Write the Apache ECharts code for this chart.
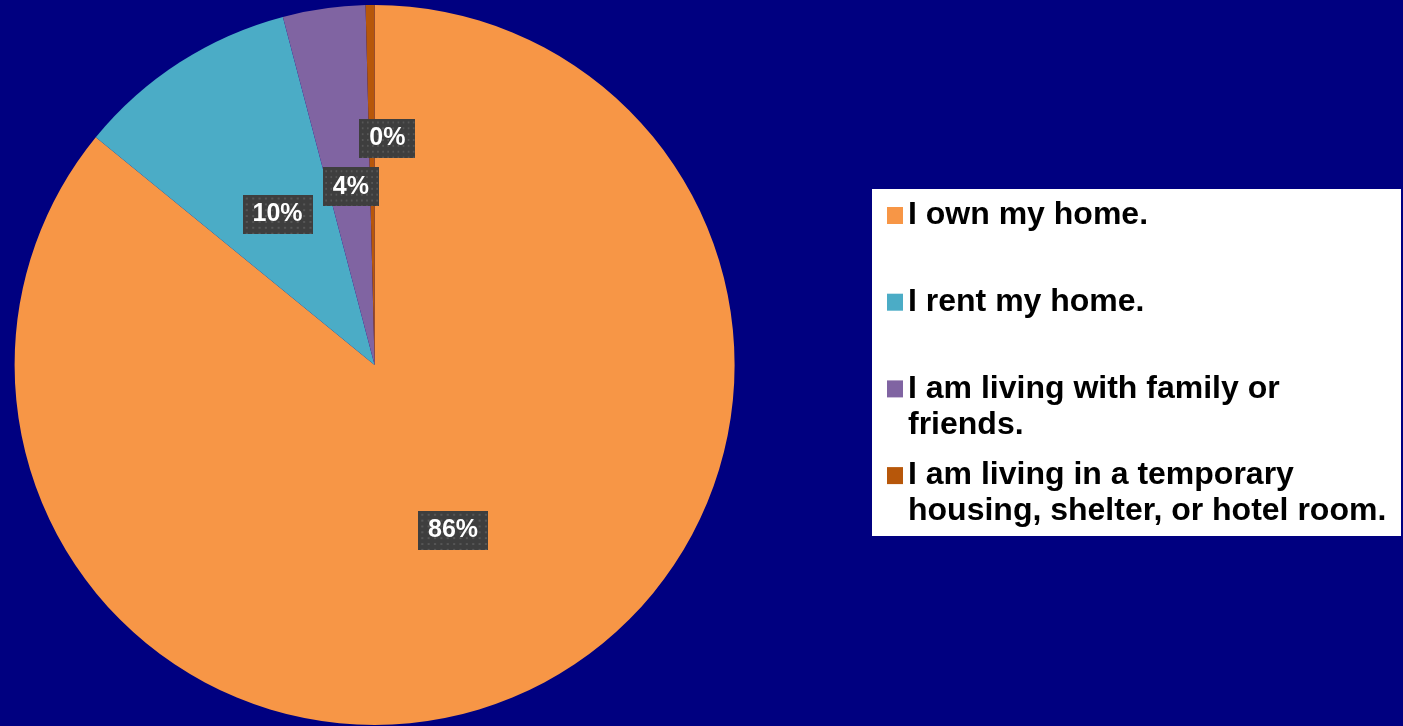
<!DOCTYPE html>
<html>
<head>
<meta charset="utf-8">
<script src="https://cdn.jsdelivr.net/npm/echarts@6/dist/echarts.min.js"></script>
<style>
  html, body { margin: 0; padding: 0; background: #000080; }
  #chart { width: 1403px; height: 726px; }
</style>
</head>
<body>
<div id="chart"></div>
<script>
// Housing situation of respondents (share of answers, %)
const categories = [
  'I own my home.',
  'I rent my home.',
  'I am living with family or friends.',
  'I am living in a temporary housing, shelter, or hotel room.'
];
const legendLabels = [
  'I own my home.',
  'I rent my home.',
  'I am living with family or\nfriends.',
  'I am living in a temporary\nhousing, shelter, or hotel room.'
];
const shares = [85.9, 10.0, 3.7, 0.4];
const sliceColors = ['#F79646', '#4BACC6', '#8064A2', '#B7570A'];

const FONT = '"Liberation Sans", Arial, Helvetica, sans-serif';

// Dark dotted fill used behind the percentage labels
function dottedTile(w, h) {
  const c = document.createElement('canvas');
  c.width = w; c.height = h;
  const g = c.getContext('2d');
  g.fillStyle = '#3e3e3e';
  g.fillRect(0, 0, w, h);
  g.fillStyle = '#565656';
  for (let y = 3; y < h; y += 6) {
    for (let x = 3; x < w; x += 6) g.fillRect(x, y, 2, 2);
  }
  return c;
}
const labelTile = dottedTile(66, 40);

const chart = echarts.init(document.getElementById('chart'), null, { renderer: 'canvas' });

// One legend block per entry. Wrapped entries get leading blank lines so the
// text block stays centred on its first line, next to the marker.
const LINE_H = 36;
const legends = categories.map((name, i) => {
  const lines = legendLabels[i].split('\n').length;
  const pad = '\n'.repeat(lines - 1);
  const total = lines * 2 - 1;
  const centerY = 215.5 + i * 86.7;
  return {
    data: [name],
    orient: 'vertical',
    left: 887,
    top: centerY - (total * LINE_H) / 2,
    padding: 0,
    icon: 'rect',
    itemWidth: 16,
    itemHeight: 17,
    selectedMode: false,
    formatter: n => pad + legendLabels[categories.indexOf(n)],
    textStyle: {
      color: '#000',
      fontFamily: FONT,
      fontWeight: 'bold',
      fontSize: 32,
      lineHeight: LINE_H
    }
  };
});

chart.setOption({
  backgroundColor: '#000080',
  animation: false,
  color: sliceColors,
  graphic: [{
    type: 'rect',
    z: 0,
    shape: { x: 872, y: 189, width: 529, height: 347 },
    style: { fill: '#ffffff' }
  }],
  legend: legends,
  series: [{
    type: 'pie',
    center: [374.6, 365],
    radius: [0, 360],
    startAngle: 90,
    clockwise: true,
    silent: true,
    data: categories.map((name, i) => ({ name, value: shares[i] })),
    itemStyle: { borderWidth: 0 },
    label: {
      show: true,
      position: 'inside',
      formatter: p => Math.round(p.percent) + '%',
      color: '#ffffff',
      fontFamily: FONT,
      fontWeight: 'bold',
      fontSize: 25,
      lineHeight: 26,
      backgroundColor: { image: labelTile },
      padding: [7, 10, 6, 10],
      shadowColor: 'rgba(0,0,0,0.6)',
      shadowBlur: 7,
      shadowOffsetX: 3,
      shadowOffsetY: 4
    },
    labelLine: { show: false },
    labelLayout: p => {
      if (p.dataIndex === 3) return { dx: 15, dy: -44 };
      if (p.dataIndex === 0) return {};
      return { dx: 2, dy: 3 };
    },
    emphasis: { disabled: true }
  }]
});
</script>
</body>
</html>
